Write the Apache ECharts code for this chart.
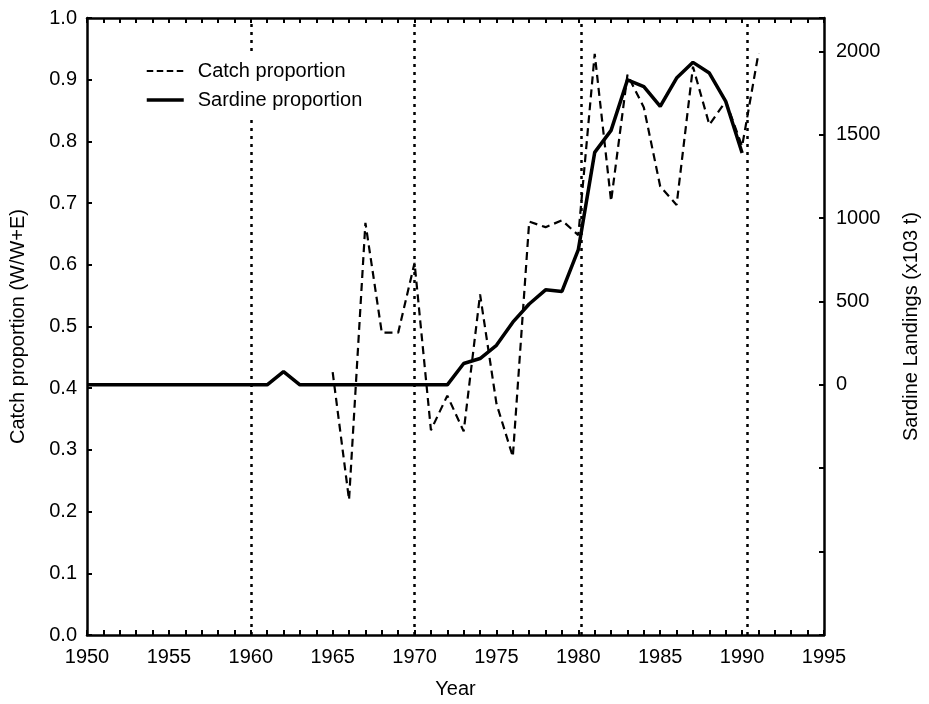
<!DOCTYPE html>
<html>
<head>
<meta charset="utf-8">
<script src="https://cdn.jsdelivr.net/npm/echarts@6/dist/echarts.min.js"></script>
<style>
  html, body { margin: 0; padding: 0; background: #fff; }
  #chart { width: 929px; height: 704px; }
</style>
</head>
<body>
<div id="chart"></div>
<script>
// Catch proportion W/(W+E), left axis
const catchYears = [1965, 1966, 1967, 1968, 1969, 1970, 1971, 1972, 1973, 1974, 1975, 1976, 1977, 1978,
                    1979, 1980, 1981, 1982, 1983, 1984, 1985, 1986, 1987, 1988, 1989, 1990, 1991];
const catchValues = [0.426, 0.219, 0.668, 0.490, 0.490, 0.603, 0.332, 0.388, 0.330, 0.552, 0.375, 0.289, 0.670, 0.661,
                     0.672, 0.648, 0.942, 0.703, 0.908, 0.855, 0.727, 0.697, 0.921, 0.827, 0.865, 0.792, 0.943];

// Sardine landings (x10^3 t), right axis
const sardineYears = [1950, 1951, 1952, 1953, 1954, 1955, 1956, 1957, 1958, 1959, 1960, 1961, 1962, 1963,
                      1964, 1965, 1966, 1967, 1968, 1969, 1970, 1971, 1972, 1973, 1974, 1975, 1976, 1977,
                      1978, 1979, 1980, 1981, 1982, 1983, 1984, 1985, 1986, 1987, 1988, 1989, 1990];
const sardineValues = [0, 0, 0, 0, 0, 0, 0, 0, 0, 0, 0, 0, 80, 0,
                       0, 0, 0, 0, 0, 0, 0, 0, 0, 128, 158, 237, 376, 485,
                       570, 560, 811, 1394, 1526, 1829, 1789, 1670, 1840, 1934, 1870, 1700, 1390];

// Regime-shift markers
const dividerYears = [1960, 1970, 1980.15, 1990.3];

const FONT = 'Liberation Sans, Arial, sans-serif';
const FS = 20;
const NAME_FS = 20;

const chart = echarts.init(document.getElementById('chart'), null, { renderer: 'canvas' });

const pairs = (xs, ys) => xs.map((x, i) => [x, ys[i]]);

const axisLineStyle = { color: '#000', width: 2.5 };
const tickStyle = { color: '#000', width: 2 };

chart.setOption({
  animation: false,
  backgroundColor: '#fff',
  textStyle: { fontFamily: FONT, color: '#000' },
  grid: { left: 87, right: 104, top: 18, bottom: 68, containLabel: false },
  legend: {
    orient: 'vertical',
    left: 141,
    top: 55,
    z: 10,
    itemWidth: 37,
    itemHeight: 14,
    itemGap: 9,
    padding: [6, 30, 8, 4],
    backgroundColor: '#fff',
    // hide the marker dot so only the line sample shows
    itemStyle: { color: 'rgba(0,0,0,0)', borderWidth: 0 },
    textStyle: { fontFamily: FONT, fontSize: 20, color: '#000', padding: [0, 0, 0, 9] },
    data: [
      { name: 'Catch proportion', lineStyle: { color: '#000', width: 2, type: [6.5, 3.5] } },
      { name: 'Sardine proportion', lineStyle: { color: '#000', width: 3.5, type: 'solid' } }
    ]
  },
  xAxis: [
    {
      type: 'value', min: 1950, max: 1995, interval: 1,
      name: 'Year', nameLocation: 'middle', nameGap: 44,
      nameTextStyle: { fontFamily: FONT, fontSize: NAME_FS, color: '#000' },
      axisLine: { show: true, onZero: false, lineStyle: axisLineStyle },
      axisTick: { show: true, inside: true, length: 5, lineStyle: tickStyle },
      axisLabel: {
        fontFamily: FONT, fontSize: FS, color: '#000', margin: 12,
        formatter: v => (v % 5 === 0 ? String(v) : '')
      },
      splitLine: { show: false }
    },
    {
      type: 'value', min: 1950, max: 1995, interval: 1, position: 'top',
      axisLine: { show: true, onZero: false, lineStyle: axisLineStyle },
      axisTick: { show: true, inside: true, length: 5, lineStyle: tickStyle },
      axisLabel: { show: false },
      splitLine: { show: false }
    }
  ],
  yAxis: [
    {
      type: 'value', min: 0, max: 1, interval: 0.1, position: 'left',
      name: 'Catch proportion (W/W+E)', nameLocation: 'middle', nameGap: 59, nameRotate: 90,
      nameTextStyle: { fontFamily: FONT, fontSize: NAME_FS, color: '#000' },
      axisLine: { show: true, onZero: false, lineStyle: axisLineStyle },
      axisTick: { show: true, inside: true, length: 5, lineStyle: tickStyle },
      axisLabel: { fontFamily: FONT, fontSize: FS, color: '#000', margin: 10, formatter: v => v.toFixed(1) },
      splitLine: { show: false }
    },
    {
      type: 'value', min: -1500, max: 2200, interval: 500, position: 'right',
      name: 'Sardine Landings (x103 t)', nameLocation: 'middle', nameGap: 77, nameRotate: 90,
      nameTextStyle: { fontFamily: FONT, fontSize: NAME_FS, color: '#000' },
      axisLine: { show: true, onZero: false, lineStyle: axisLineStyle },
      axisTick: { show: true, inside: true, length: 5, lineStyle: tickStyle },
      axisLabel: {
        fontFamily: FONT, fontSize: FS, color: '#000', margin: 12,
        formatter: v => (v >= 0 && v <= 2000 && v % 500 === 0 ? String(v) : '')
      },
      splitLine: { show: false }
    }
  ],
  series: [
    {
      name: 'Catch proportion',
      type: 'line',
      xAxisIndex: 0, yAxisIndex: 0,
      data: pairs(catchYears, catchValues),
      symbol: 'none',
      lineStyle: { color: '#000', width: 2.2, type: [8, 5] },
      itemStyle: { color: '#000' },
      z: 3,
      markLine: {
        silent: true,
        symbol: 'none',
        label: { show: false },
        lineStyle: { color: '#000', width: 2.5, type: [3, 5] },
        data: dividerYears.map(y => ({ xAxis: y }))
      }
    },
    {
      name: 'Sardine proportion',
      type: 'line',
      xAxisIndex: 0, yAxisIndex: 1,
      data: pairs(sardineYears, sardineValues),
      symbol: 'none',
      lineStyle: { color: '#000', width: 3.5, type: 'solid' },
      itemStyle: { color: '#000' },
      z: 4
    }
  ]
});
</script>
</body>
</html>
